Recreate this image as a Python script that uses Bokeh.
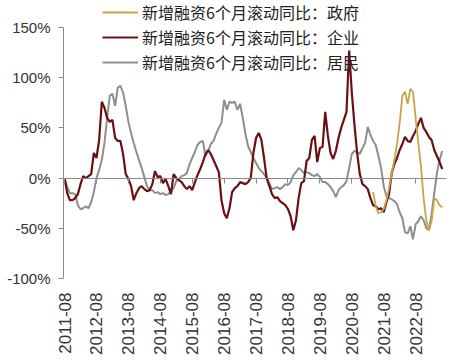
import math
import pandas as pd
from bokeh.plotting import figure
from bokeh.models import (Range1d, FixedTicker, LinearAxis, PrintfTickFormatter,
                          Legend, LegendItem, CustomLabelingPolicy)
from bokeh.embed import file_html
from bokeh.resources import INLINE

# ---------------- data (values in %) ----------------
months = [str(p) for p in pd.period_range("2011-08", "2023-06", freq="M")]

corp = [0, -15, -22, -22, -20, -16, -6, 2, 0, 2, 4, 25, 20, 38, 76, 70, 60, 56, 58, 40,
        37, 37, 24, 4, -1, -8, -22, -15, -10, -8, -11, -13, -12, -6, 7, 1, 2, -5, -1, -8,
        -16, 4, 0, -2, -4, -8, -11, -8, -12, -4, 3, 9, 16, 24, 28, 24, 18, 12, 6, -22,
        -35, -40, -30, -14, -10, -8, -4, -5, -6, -4, 0, 25, 40, 45, 38, 20, 0, -8, -16, -20,
        -19, -23, -25, -27, -31, -38, -52, -42, -20, -5, -3, 17, 20, 38, 42, 16, 30, 31, 66, 42,
        25, 19, 27, 40, 50, 58, 66, 127, 85, 53, 25, 4, -6, -8, -11, -20, -27, -28, -31, -30,
        -34, -24, -16, 5, 14, 20, 28, 34, 41, 37, 36, 42, 47, 54, 60, 50, 46, 41, 38, 28,
        22, 16, 9]

household = [0, -9, -15, -15, -16, -27, -31, -30, -28, -30, -24, -14, 0, 8, 18, 35, 60, 82, 84, 72,
             90, 92, 85, 72, 56, 45, 35, 26, 18, 10, 1, -8, -12, -12, -15, -14, -16, -15, -17, -16,
             -13, -10, -3, -1, 2, 3, 5, 14, 20, 26, 33, 36, 37, 22, 27, 34, 37, 44, 50, 55,
             78, 68, 76, 75, 76, 68, 74, 60, 44, 32, 26, 20, 15, 10, 7, 4, 0, -5, -11, -10,
             -9, -11, -9, -6, -7, -4, 3, 6, 10, 8, 5, 6, 5, 3, 2, 4, 1, -4, -4, -6,
             -9, -13, -19, -12, -9, -7, -3, 10, 24, 27, 26, 24, 30, 35, 51, 43, 37, 33, 22, 10,
             -8, -18, -20, -21, -23, -26, -34, -40, -54, -55, -48, -61, -46, -43, -38, -42, -50, -52, -36, -15,
             5, 18, 27]

gov_start = "2021-04"
gov = [-14, -28, -35, -34, -31, -22, -10, 5, 18, 34, 55, 82, 86, 74, 89, 86, 60, 35, 12, -20,
       -42, -52, -43, -20, -22, -27, -29]

tick_labels = ["2011-08", "2012-08", "2013-08", "2014-08", "2015-08", "2016-08",
               "2017-08", "2018-08", "2019-08", "2020-08", "2021-08", "2022-08"]
y_ticks = [-100, -50, 0, 50, 100, 150]

names = ["新增融资6个月滚动同比：政府", "新增融资6个月滚动同比：企业", "新增融资6个月滚动同比：居民"]

# ---------------- build ----------------
idx = list(range(len(months)))
g0 = months.index(gov_start)
gov_x = idx[g0:g0 + len(gov)]
tick_pos = [months.index(t) for t in tick_labels]

FONT = "Liberation Sans"
CJK = "Noto Sans CJK SC"
AX = "#8a8a8a"
TXT = "#333333"

p = figure(width=468, height=364, output_backend="svg", toolbar_location=None,
           x_range=Range1d(-0.4, 143.6), y_range=Range1d(-100, 176.9),
           min_border_left=63, min_border_right=22, min_border_top=0, min_border_bottom=86)
p.outline_line_color = None
p.grid.visible = False
p.background_fill_color = "white"

r_h = p.line(idx[:len(household)], household, line_color="#8e8e8e", line_width=2)
r_c = p.line(idx[:len(corp)], corp, line_color="#6a1014", line_width=2.2)
r_g = p.line(gov_x, gov, line_color="#caa447", line_width=1.8)

# y axis
ya = p.yaxis[0]
ya.ticker = FixedTicker(ticks=y_ticks)
ya.bounds = (y_ticks[0], y_ticks[-1])
ya.formatter = PrintfTickFormatter(format="%d%%")
ya.axis_line_color = AX
ya.major_tick_line_color = AX
ya.major_tick_out = 5
ya.major_tick_in = 0
ya.minor_tick_line_color = None
ya.major_label_standoff = 8
ya.major_label_text_font = FONT
ya.major_label_text_font_size = "15px"
ya.major_label_text_color = TXT

# x axis (labels only, at bottom)
xa = p.xaxis[0]
xa.ticker = FixedTicker(ticks=tick_pos)
xa.major_label_overrides = {pos: lab for pos, lab in zip(tick_pos, tick_labels)}
xa.major_label_orientation = math.pi / 2
xa.axis_line_color = None
xa.major_tick_line_color = None
xa.minor_tick_line_color = None
xa.major_tick_out = 0
xa.major_tick_in = 0
xa.major_label_standoff = 14
xa.major_label_text_font = FONT
xa.major_label_text_font_size = "17px"
xa.major_label_text_color = TXT

# zero line axis with downward ticks, no labels
hide_all = CustomLabelingPolicy(code="""
    const all = [...indices]
    for (const i of all) indices.unset(i)
    return indices
""")
za = LinearAxis(fixed_location=0, ticker=FixedTicker(ticks=tick_pos))
za.axis_line_color = AX
za.major_tick_line_color = AX
za.major_tick_out = 5
za.major_tick_in = 0
za.minor_tick_line_color = None
za.major_label_policy = hide_all
za.major_label_standoff = 0
p.add_layout(za, "below")

legend = Legend(items=[LegendItem(label=names[0], renderers=[r_g]),
                       LegendItem(label=names[1], renderers=[r_c]),
                       LegendItem(label=names[2], renderers=[r_h])],
                location=(39, 204), orientation="vertical",
                glyph_width=36, glyph_height=20, label_height=20, spacing=1,
                label_standoff=4, padding=0, margin=0,
                label_text_font=CJK, label_text_font_size="16px", label_text_color="#222222",
                background_fill_alpha=0, border_line_color=None)
p.add_layout(legend, "center")

open("out.html", "w").write(file_html(p, INLINE))
